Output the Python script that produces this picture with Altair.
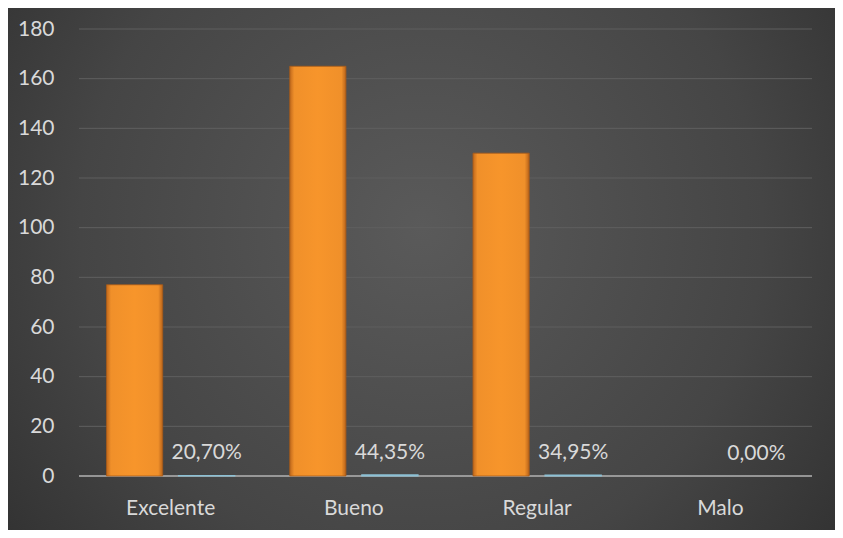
import altair as alt
import pandas as pd

categories = ["Excelente", "Bueno", "Regular", "Malo"]
counts = [77, 165, 130, 0]
percents = [0.2070, 0.4435, 0.3495, 0.0]
y_ticks = [0, 20, 40, 60, 80, 100, 120, 140, 160, 180]

W, H = 733, 447
PAD = {"left": 71, "top": 21, "right": 23, "bottom": 54}
FONT = "Lato"
FS = 21
LABEL = "#d9d9d9"

df = pd.DataFrame({"cat": categories, "count": counts, "pct": percents})
base_df = pd.DataFrame({"v": [0]})

x_scale = alt.Scale(domain=categories, paddingInner=0.3, paddingOuter=0.15)
off_scale = alt.Scale(domain=["count", "pct"], paddingInner=0.22, paddingOuter=0)
y_scale = alt.Scale(domain=[0, 180], nice=False)

axis_y = alt.Axis(values=y_ticks, grid=False, domain=False, ticks=False,
                  labelPadding=25, labelFontSize=FS, labelColor=LABEL,
                  labelFont=FONT, title=None, zindex=1)
axis_x = alt.Axis(domain=False, ticks=False, labelPadding=21, labelFontSize=FS,
                  labelColor=LABEL, labelFont=FONT, title=None, labelAngle=0,
                  zindex=1)

bg = alt.Chart(base_df).mark_rect(
    color=alt.Gradient(
        gradient="radial",
        stops=[alt.GradientStop(color="#5a5a5a", offset=0),
               alt.GradientStop(color="#454545", offset=0.55),
               alt.GradientStop(color="#282828", offset=1)],
        x1=0.5, y1=0.45, r1=0, x2=0.5, y2=0.45, r2=0.75),
).encode(
    x=alt.value(-PAD["left"]), x2=alt.value(W + PAD["right"]),
    y=alt.value(-PAD["top"]), y2=alt.value(H + PAD["bottom"]),
)

grid = alt.Chart(pd.DataFrame({"v": y_ticks})).transform_filter("datum.v > 0").mark_rule(
    color="#5f5f5f", strokeWidth=1
).encode(
    y=alt.Y("v:Q", scale=y_scale, axis=axis_y),
    x=alt.value(0), x2=alt.value(W),
)

bars = alt.Chart(df).transform_calculate(series="'count'").transform_filter(
    "datum.count > 0"
).mark_bar(
    color=alt.Gradient(
        gradient="linear",
        stops=[alt.GradientStop(color="#c0681c", offset=0),
               alt.GradientStop(color="#f0902a", offset=0.08),
               alt.GradientStop(color="#f7952b", offset=0.5),
               alt.GradientStop(color="#f0902a", offset=0.92),
               alt.GradientStop(color="#b8631a", offset=1)],
        x1=0, x2=1, y1=0, y2=0),
    stroke="#a85a18", strokeWidth=0.8,
).encode(
    x=alt.X("cat:N", scale=x_scale, axis=axis_x, sort=categories),
    xOffset=alt.XOffset("series:N", scale=off_scale),
    y=alt.Y("count:Q", scale=y_scale),
)

pct_bars = alt.Chart(df).transform_calculate(series="'pct'").transform_filter(
    "datum.pct > 0"
).mark_bar(
    color="#8cc0d4", stroke="#8cc0d4", strokeWidth=1.2,
).encode(
    x=alt.X("cat:N", scale=x_scale, sort=categories),
    xOffset=alt.XOffset("series:N", scale=off_scale),
    y=alt.Y("pct:Q", scale=y_scale),
)

baseline = alt.Chart(base_df).mark_rule(color="#b3b3b3", strokeWidth=1.6).encode(
    y=alt.Y("v:Q", scale=y_scale),
    x=alt.value(0), x2=alt.value(W),
)

labels = alt.Chart(df).transform_calculate(
    series="'pct'",
    lab="replace(format(datum.pct, '.2%'), '.', ',')",
).mark_text(
    baseline="bottom", dy=-12, fontSize=FS, font=FONT, color=LABEL,
).encode(
    x=alt.X("cat:N", scale=x_scale, sort=categories),
    xOffset=alt.XOffset("series:N", scale=off_scale),
    y=alt.Y("pct:Q", scale=y_scale),
    text="lab:N",
)

chart = alt.layer(bg, grid, baseline, bars, pct_bars, labels).properties(
    width=W, height=H,
    autosize=alt.AutoSizeParams(type="none"),
    padding=PAD,
    background="#2e2e2e",
).configure_view(stroke=None)

chart.save("out.html", embed_options={"renderer": "svg", "actions": False})
